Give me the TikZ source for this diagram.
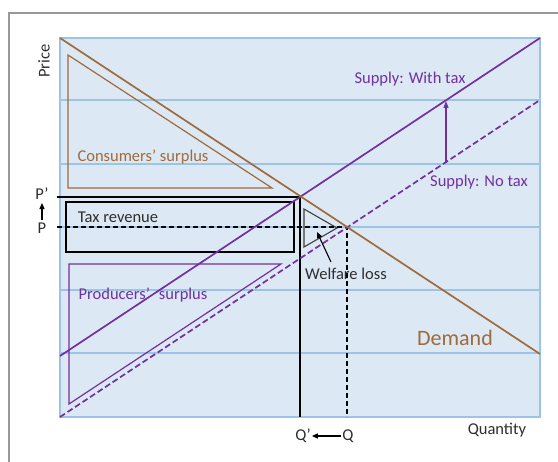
\documentclass[tikz,border=0pt]{standalone}
\usepackage{fontspec}
\setmainfont{Carlito}
\usetikzlibrary{arrows.meta}
\definecolor{brn}{HTML}{9E6B3B}
\definecolor{prp}{HTML}{7030A0}
\definecolor{gridb}{HTML}{9DC3E6}
\definecolor{fillb}{HTML}{DDE8F5}
\definecolor{txt}{HTML}{2E2E2E}
\begin{document}
\begin{tikzpicture}[x=1pt,y=-1pt,
  lbl/.style={font=\fontsize{16.5}{19}\selectfont, text=txt, inner sep=1pt},
  gridline/.style={gridb, line width=1.2pt},
  curve/.style={line width=1.7pt},
  blk/.style={black, line width=1.6pt},
  tip/.style={-{Triangle[length=6pt,width=5pt]}}]
\useasboundingbox (0,0) rectangle (558,462);
% outer frame
\draw[black!40, line width=1.5pt] (9,462) -- (9,13) -- (558,13);
% plot area
\fill[fillb] (60,38) rectangle (540,417);
\foreach \y in {100,164,227,290,353} \draw[gridline] (60,\y) -- (540,\y);
\draw[gridline] (60,38) rectangle (540,417);
% key points
\coordinate (D0) at (60,38);  \coordinate (D1) at (540,354);
\coordinate (T0) at (60,356); \coordinate (T1) at (540,38);
\coordinate (N0) at (60,417); \coordinate (N1) at (540,100);
\coordinate (Ep) at (300,197);
\coordinate (E) at (347,227);
\coordinate (Pl) at (57,197);
\coordinate (Pd) at (57,227);
\coordinate (Qpb) at (300,417);
\coordinate (Qb) at (347,417);
% surplus triangles
\draw[brn, line width=1.2pt] (68,55) -- (68,188) -- (272,188) -- cycle;
\draw[prp, line width=1.2pt] (69,264) -- (69,404) -- (281,264) -- cycle;
% tax revenue
\draw[blk] (66,202) rectangle (294,252);
% welfare loss triangle
\draw[black!75, line width=1.1pt] (304,209) -- (304,247) -- (337,228) -- cycle;
% price / quantity guides
\draw[blk] (Pl) -- (Ep) -- (Qpb);
\draw[black, line width=1.3pt, dash pattern=on 5pt off 3pt] (Pd) -- (E) -- (Qb);
% curves
\draw[curve, prp, dash pattern=on 6pt off 3pt] (N0) -- (N1);
\draw[curve, prp] (T0) -- (T1);
\draw[curve, brn] (D0) -- (D1);
% tax shift arrow
\coordinate (ta) at (446,163);
\coordinate (tb) at (446,101);
\draw[prp, line width=1.2pt, -{Triangle[length=7pt,width=5pt]}] (ta) -- (tb);
% labels
\node[lbl, rotate=90] (price) at (44,61) {Price};
\node[lbl] (qty) at (497,430) {Quantity};
\node[lbl, text=prp] (swt) at (410,79) {Supply: With tax};
\node[lbl, text=prp] (snt) at (479,182) {Supply: No tax};
\node[lbl, text=brn] (cs) at (143,157) {Consumers’ surplus};
\node[lbl] (tr) at (118,217) {Tax revenue};
\node[lbl, text=prp] (ps) at (143,295) {Producers’\hspace{9pt}surplus};
\node[lbl] (wl) at (346,274) {Welfare loss};
\node[lbl, text=brn, font=\fontsize{22}{26}\selectfont] (dem) at (455,338) {Demand};
\node[lbl] (qp) at (303,436) {Q’};
\node[lbl] (q) at (348,436) {Q};
\node[lbl] (pp) at (42,194) {P’};
\node[lbl] (p) at (42,228) {P};
\draw[black, line width=1.3pt, tip] (q) -- (qp);
\draw[black, line width=1.3pt, tip, shorten <=2pt, shorten >=2pt] (p) -- (pp);
\coordinate (wtail) at (331,262);
\coordinate (wtip) at (317,232);
\draw[black, line width=1.1pt, tip] (wtail) -- (wtip);
\end{tikzpicture}
\end{document}
